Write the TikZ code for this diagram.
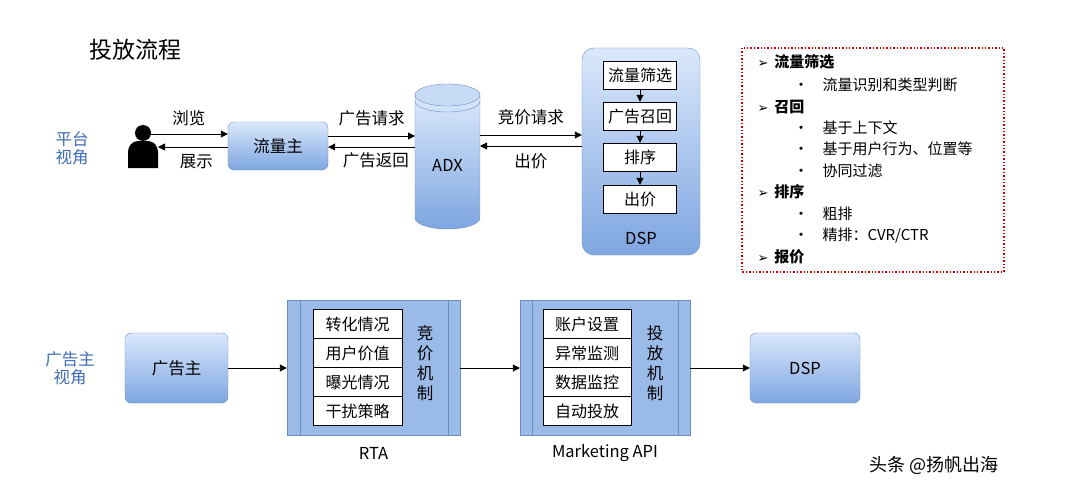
\documentclass[tikz,border=0pt]{standalone}
\usepackage{fontspec}
\setmainfont{Noto Sans CJK SC}
\newfontfamily\myarrowfont{DejaVu Sans}
\usetikzlibrary{arrows.meta}
\definecolor{bd}{HTML}{6C8EBF}
\definecolor{lt}{HTML}{DAE8FC}
\definecolor{dk}{HTML}{7EA6E0}
\definecolor{lab}{HTML}{3F6DB5}
\tikzset{
 blue/.style={draw=bd,top color=lt,bottom color=dk,rounded corners=6pt},
 flat/.style={draw=bd,fill=dk!70!lt},
 wb/.style={draw=black,fill=white,minimum width=73pt,minimum height=28pt,inner sep=1pt,font=\fontsize{16}{16}\selectfont},
 ar/.style={-{Triangle[length=7pt,width=7pt]},line width=0.9pt},
 t/.style={font=\fontsize{16.5}{18}\selectfont},
 sm/.style={font=\fontsize{15}{16}\selectfont,anchor=west},
}
\newcommand\mytick{{\myarrowfont\fontsize{13}{13}\selectfont ➢}\hspace{6pt}}
\begin{document}
\begin{tikzpicture}[x=1pt,y=-1pt]
\useasboundingbox (0,0) rectangle (1080,495);
\fill[white] (0,0) rectangle (1080,495);
\node[font=\fontsize{23}{23}\selectfont,anchor=west] (title) at (86,50) {投放流程};
\node[t,text=lab,align=center] (pv) at (72,148) {平台\\视角};
\node[t,text=lab,align=center] (av) at (70,368) {广告主\\视角};
% person
\fill[black] (143,133) circle (8);
\fill[black] (128,168) -- (128,152) to[out=90,in=180] (138,141) -- (148,141) to[out=0,in=90] (158,152) -- (158,168) -- cycle;
\coordinate (pr) at (150,134);
\coordinate (pr2) at (158,147);
% flow master
\node[blue,minimum width=100pt,minimum height=48pt,t] (fm) at (278,146) {流量主};
% ADX cylinder
\shade[top color=lt,bottom color=dk,draw=bd] (415,95) -- (415,218) arc[start angle=180,end angle=0,x radius=32.5,y radius=11] -- (480,95) -- cycle;
\fill[lt!80!dk,draw=bd] (447.5,95) ellipse [x radius=32.5,y radius=11];
\draw[bd] (415,101) arc[start angle=180,end angle=0,x radius=32.5,y radius=11];
\node[t] (adx) at (447.5,165) {ADX};
% DSP container
\node[blue,rounded corners=12pt,minimum width=118pt,minimum height=207pt] (dsp) at (641,151.5) {};
\node[t] (dspl) at (641,238) {DSP};
\node[wb] (s1) at (640,75) {流量筛选};
\node[wb] (s2) at (640,116) {广告召回};
\node[wb] (s3) at (640,157) {排序};
\node[wb] (s4) at (640,199) {出价};
\foreach \a/\b in {s1/s2,s2/s3,s3/s4} \draw[ar] (\a) -- (\b);
% top arrows
\draw[ar] (pr) -- (fm.west |- 0,134) node[pos=.5,above=4pt,t] (l1) {浏览};
\draw[ar] (fm.west |- 0,147) -- (pr2) node[pos=.45,below=4pt,t] (l2) {展示};
\coordinate (al) at (415,136); \coordinate (al2) at (415,147);
\coordinate (ar1) at (480,135); \coordinate (ar2) at (480,146);
\draw[ar] (fm.east |- 0,136) -- (al) node[pos=.5,above=6pt,t] (l3) {广告请求};
\draw[ar] (al2) -- (fm.east |- 0,147) node[pos=.45,below=2pt,t] (l4) {广告返回};
\draw[ar] (ar1) -- (dsp.west |- 0,135) node[pos=.5,above=6pt,t] (l5) {竞价请求};
\draw[ar] (dsp.west |- 0,146) -- (ar2) node[pos=.5,below=4pt,t] (l6) {出价};
% red box
\draw[red!80!black,line width=1.4pt,dotted] (742,48) rectangle (1004,272);
\node[sm] (r1) at (754,62) {\mytick\textbf{流量筛选}};
\node[sm] (r2) at (790,85) {•\hspace{14pt}流量识别和类型判断};
\node[sm] (r3) at (754,107) {\mytick\textbf{召回}};
\node[sm] (r4) at (790,128) {•\hspace{14pt}基于上下文};
\node[sm] (r5) at (790,149) {•\hspace{14pt}基于用户行为、位置等};
\node[sm] (r6) at (790,171) {•\hspace{14pt}协同过滤};
\node[sm] (r7) at (754,192) {\mytick\textbf{排序}};
\node[sm] (r8) at (790,214) {•\hspace{14pt}粗排};
\node[sm] (r9) at (790,236) {•\hspace{14pt}精排：CVR/CTR};
\node[sm] (r10) at (754,257) {\mytick\textbf{报价}};
% bottom
\node[blue,minimum width=103pt,minimum height=70pt,t] (adv) at (176.5,368) {广告主};
\node[flat,minimum width=173pt,minimum height=135pt] (rta) at (373.5,367.5) {};
\draw[bd] (300,300) -- (300,435) (448,300) -- (448,435);
\node[t] (rtal) at (373.5,453) {RTA};
\node[wb,minimum width=89pt,minimum height=29pt] (a1) at (357.5,324) {转化情况};
\node[wb,minimum width=89pt,minimum height=29pt] (a2) at (357.5,353) {用户价值};
\node[wb,minimum width=89pt,minimum height=29pt] (a3) at (357.5,382) {曝光情况};
\node[wb,minimum width=89pt,minimum height=29pt] (a4) at (357.5,411) {干扰策略};
\node[t,align=center,font=\fontsize{16.5}{20}\selectfont] (jj) at (425,363) {竞\\价\\机\\制};
\node[flat,minimum width=170pt,minimum height=135pt] (api) at (605,367.5) {};
\draw[bd] (532,300) -- (532,435) (678,300) -- (678,435);
\node[t] (apil) at (605,453) {Marketing API};
\node[wb,minimum width=88pt,minimum height=29pt] (b1) at (587,324) {账户设置};
\node[wb,minimum width=88pt,minimum height=29pt] (b2) at (587,353) {异常监测};
\node[wb,minimum width=88pt,minimum height=29pt] (b3) at (587,382) {数据监控};
\node[wb,minimum width=88pt,minimum height=29pt] (b4) at (587,411) {自动投放};
\node[t,align=center,font=\fontsize{16.5}{20}\selectfont] (tf) at (655,363) {投\\放\\机\\制};
\node[blue,minimum width=110pt,minimum height=70pt,t] (dsp2) at (805,368) {DSP};
\draw[ar] (adv) -- (rta.west |- adv);
\draw[ar] (rta.east |- adv) -- (api.west |- adv);
\draw[ar] (api.east |- adv) -- (dsp2);
\node[font=\fontsize{18}{18}\selectfont,anchor=west] (wm) at (866,465) {头条 @扬帆出海};
\end{tikzpicture}
\end{document}
